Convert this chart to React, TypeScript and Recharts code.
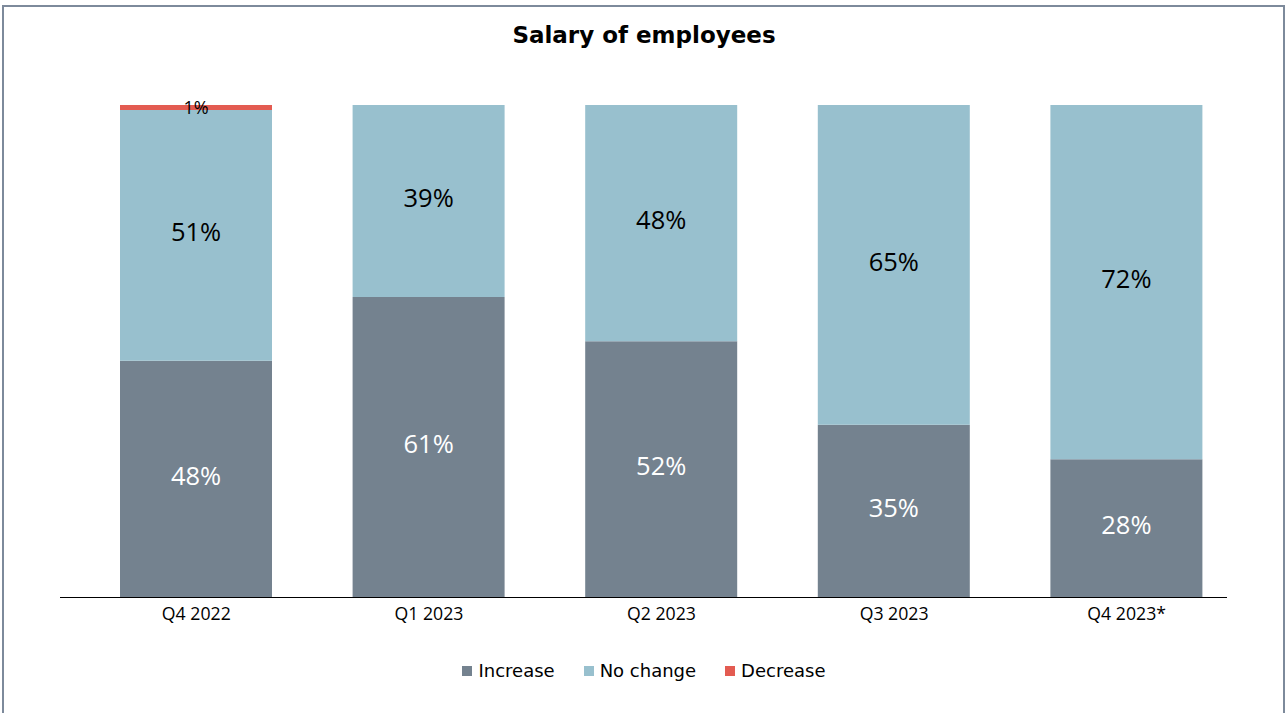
import { BarChart, Bar, XAxis, YAxis, LabelList } from 'recharts';

// Quarters on the x axis
const quarters = ['Q4 2022', 'Q1 2023', 'Q2 2023', 'Q3 2023', 'Q4 2023*'];

// Share of employees (%) per quarter
const increase = [48, 61, 52, 35, 28];
const noChange = [51, 39, 48, 65, 72];
const decrease = [1, 0, 0, 0, 0];

const SERIES = [
  { key: 'increase', name: 'Increase', color: '#74828f', label: '#ffffff', size: 25.5, dy: -3 },
  { key: 'noChange', name: 'No change', color: '#98c0ce', label: '#000000', size: 25.5, dy: -3 },
  { key: 'decrease', name: 'Decrease', color: '#e35b51', label: '#000000', size: 18, dy: 0 },
];

const data = quarters.map((q, i) => ({
  quarter: q,
  increase: increase[i],
  noChange: noChange[i],
  decrease: decrease[i],
}));

const pct = (v: any) => (v ? `${v}%` : '');

export default function App() {
  return (
    <div style={{ position: 'absolute', left: 0, top: 0, width: 1288, height: 713, background: '#fff', overflow: 'hidden' }}>
      {/* frame */}
      <div
        style={{
          position: 'absolute',
          left: 2,
          top: 5,
          width: 1283,
          height: 730,
          boxSizing: 'border-box',
          border: '2px solid #7d8a9b',
        }}
      />
      <div
        style={{
          position: 'absolute',
          top: 24,
          left: 0,
          width: 1288,
          textAlign: 'center',
          fontFamily: 'DejaVu Sans',
          fontWeight: 'bold',
          fontSize: 23,
          lineHeight: '23px',
          color: '#000',
        }}
      >
        Salary of employees
      </div>
      <div style={{ position: 'absolute', left: 0, top: 0 }}>
        <BarChart
          width={1288}
          height={713}
          data={data}
          margin={{ top: 105, right: 45, bottom: 86, left: 80 }}
        >
          <XAxis
            dataKey="quarter"
            height={30}
            axisLine={false}
            tickLine={false}
            tickSize={0}
            tickMargin={10}
            tick={{ fill: '#000', fontSize: 17.7, fontFamily: 'Open Sans' }}
          />
          <YAxis hide domain={[0, 100]} />
          {SERIES.map((s) => (
            <Bar
              key={s.key}
              dataKey={s.key}
              name={s.name}
              stackId="a"
              fill={s.color}
              barSize={152}
              isAnimationActive={false}
            >
              <LabelList
                dataKey={s.key}
                position="center"
                formatter={pct}
                fill={s.label}
                fontSize={s.size}
                fontFamily="Open Sans"
                dy={s.dy}
              />
            </Bar>
          ))}
        </BarChart>
      </div>
      {/* baseline of the category axis */}
      <div style={{ position: 'absolute', left: 60, top: 597, width: 1167, height: 1, background: '#000' }} />
      {/* legend */}
      <div
        style={{
          position: 'absolute',
          top: 660,
          left: 0,
          width: 1288,
          display: 'flex',
          justifyContent: 'center',
          gap: 29,
          fontFamily: 'DejaVu Sans',
          fontSize: 18,
          lineHeight: '22px',
          color: '#000',
        }}
      >
        {SERIES.map((s) => (
          <div key={s.key} style={{ display: 'flex', alignItems: 'center' }}>
            <span style={{ width: 10, height: 10, background: s.color, marginRight: 6, display: 'inline-block' }} />
            <span>{s.name}</span>
          </div>
        ))}
      </div>
    </div>
  );
}
